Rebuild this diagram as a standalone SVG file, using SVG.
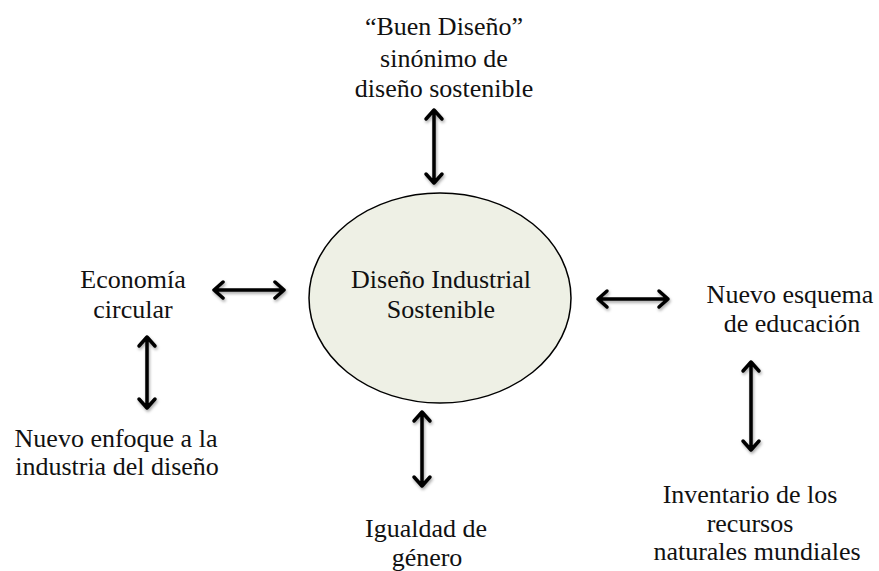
<svg xmlns="http://www.w3.org/2000/svg" width="879" height="571" viewBox="0 0 879 571">
<style>
text{font-family:'Liberation Serif','DejaVu Serif',serif;font-size:26px;fill:#111;text-anchor:middle}
.ar{fill:none;stroke:#000;stroke-width:3.5;stroke-linecap:round;stroke-linejoin:round}
</style>
<defs>
<filter id="sh" x="-50%" y="-50%" width="200%" height="200%">
<feDropShadow dx="1" dy="2" stdDeviation="1.5" flood-color="#000" flood-opacity="0.35"/>
</filter>
</defs>
<rect width="879" height="571" fill="#fff"/>
<g id="center">
<ellipse cx="440" cy="298" rx="131" ry="105" fill="#eef0e5" stroke="#000" stroke-width="1.5"/>
<text x="441" y="288">Diseño Industrial</text>
<text x="441" y="318">Sostenible</text>
</g>
<g id="buen-diseno">
<text x="444" y="35">“Buen Diseño”</text>
<text x="444" y="67">sinónimo de</text>
<text x="444" y="97">diseño sostenible</text>
</g>
<g id="economia">
<text x="133" y="288">Economía</text>
<text x="133" y="318">circular</text>
</g>
<g id="enfoque">
<text x="116" y="447">Nuevo enfoque a la</text>
<text x="117" y="475">industria del diseño</text>
</g>
<g id="esquema">
<text x="790" y="303">Nuevo esquema</text>
<text x="792" y="332">de educación</text>
</g>
<g id="inventario">
<text x="750" y="503">Inventario de los</text>
<text x="750" y="532">recursos</text>
<text x="757" y="560">naturales mundiales</text>
</g>
<g id="igualdad">
<text x="426" y="537">Igualdad de</text>
<text x="427" y="566">género</text>
</g>
<g id="connectors" class="ar" filter="url(#sh)">
<path d="M434 110V183M426 119L434 110L442 119M426 174L434 183L442 174"/>
<path d="M214 290H284M223 282L214 290L223 298M275 282L284 290L275 298"/>
<path d="M147 337V408M139 346L147 337L155 346M139 399L147 408L155 399"/>
<path d="M598 299H668M607 291L598 299L607 307M659 291L668 299L659 307"/>
<path d="M751 362V450M743 371L751 362L759 371M743 441L751 450L759 441"/>
<path d="M422 412V486M414 421L422 412L430 421M414 477L422 486L430 477"/>
</g>
</svg>
